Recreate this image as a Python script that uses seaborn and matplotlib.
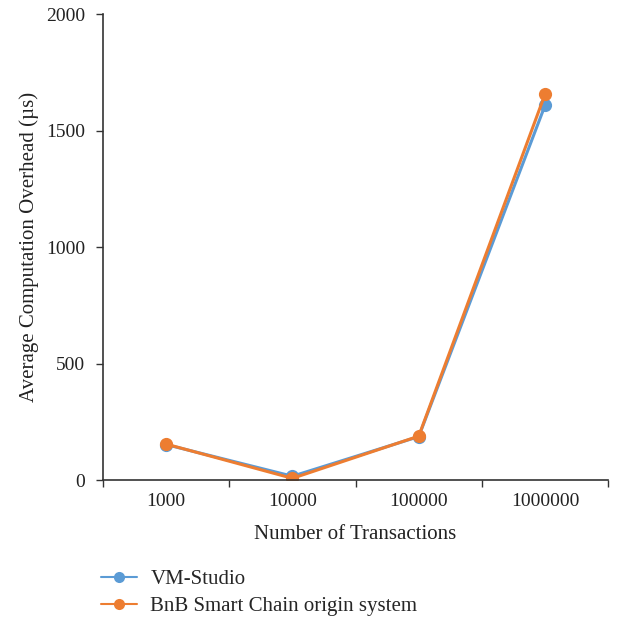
import matplotlib
matplotlib.use('Agg')
import matplotlib.pyplot as plt
import seaborn as sns
import pandas as pd

# data
transactions = ['1000', '10000', '100000', '1000000']
vm_studio = [153, 17, 187, 1609]
bnb_origin = [155, 8, 189, 1657]

sns.set_theme(style='white')
plt.rcParams['font.family'] = ['Liberation Serif', 'DejaVu Serif']

df = pd.DataFrame({
    'Number of Transactions': transactions * 2,
    'value': vm_studio + bnb_origin,
    'system': ['VM-Studio'] * 4 + ['BnB Smart Chain origin system'] * 4,
})

fig = plt.figure(figsize=(6.2, 6.18), dpi=100)
ax = fig.add_axes([0.166, 0.223, 0.815, 0.754])

sns.lineplot(data=df, x='Number of Transactions', y='value', hue='system',
             palette=['#5B9BD5', '#ED7D31'], marker='o', markersize=9.5,
             markeredgewidth=0, linewidth=2.2, sort=False, ax=ax)

ax.set_xlim(-0.5, 3.5)
ax.set_ylim(0, 2000)
ax.set_yticks([0, 500, 1000, 1500, 2000])
ax.set_xticks(range(4))
ax.set_xticklabels(transactions)
ax.set_xticks([-0.5, 0.5, 1.5, 2.5, 3.5], minor=True)
ax.tick_params(axis='x', which='major', length=0, labelsize=14, pad=9, colors='#222222')
ax.tick_params(axis='x', which='minor', length=5, width=1, color='#333333', direction='out', bottom=True)
ax.tick_params(axis='y', which='major', length=5, width=1, color='#333333', direction='out',
               left=True, labelsize=14, labelcolor='#222222', pad=8)

for s in ['top', 'right']:
    ax.spines[s].set_visible(False)
for s in ['left', 'bottom']:
    ax.spines[s].set_color('#333333')
    ax.spines[s].set_linewidth(1.2)

ax.set_xlabel('Number of Transactions', fontsize=15, color='#222222', labelpad=11)
ax.set_ylabel('Average Computation Overhead (µs)', fontsize=15, color='#222222', labelpad=5)

leg = ax.legend(loc='upper left', bbox_to_anchor=(0.15, 0.092), bbox_transform=fig.transFigure,
                frameon=False, fontsize=15, handlelength=1.7, handletextpad=0.65,
                labelspacing=0.35, borderaxespad=0)
for h in leg.get_lines():
    h.set_linewidth(1.5)
    h.set_markersize(8)

fig.savefig('out.png', dpi=100, facecolor='white')
plt.close(fig)
